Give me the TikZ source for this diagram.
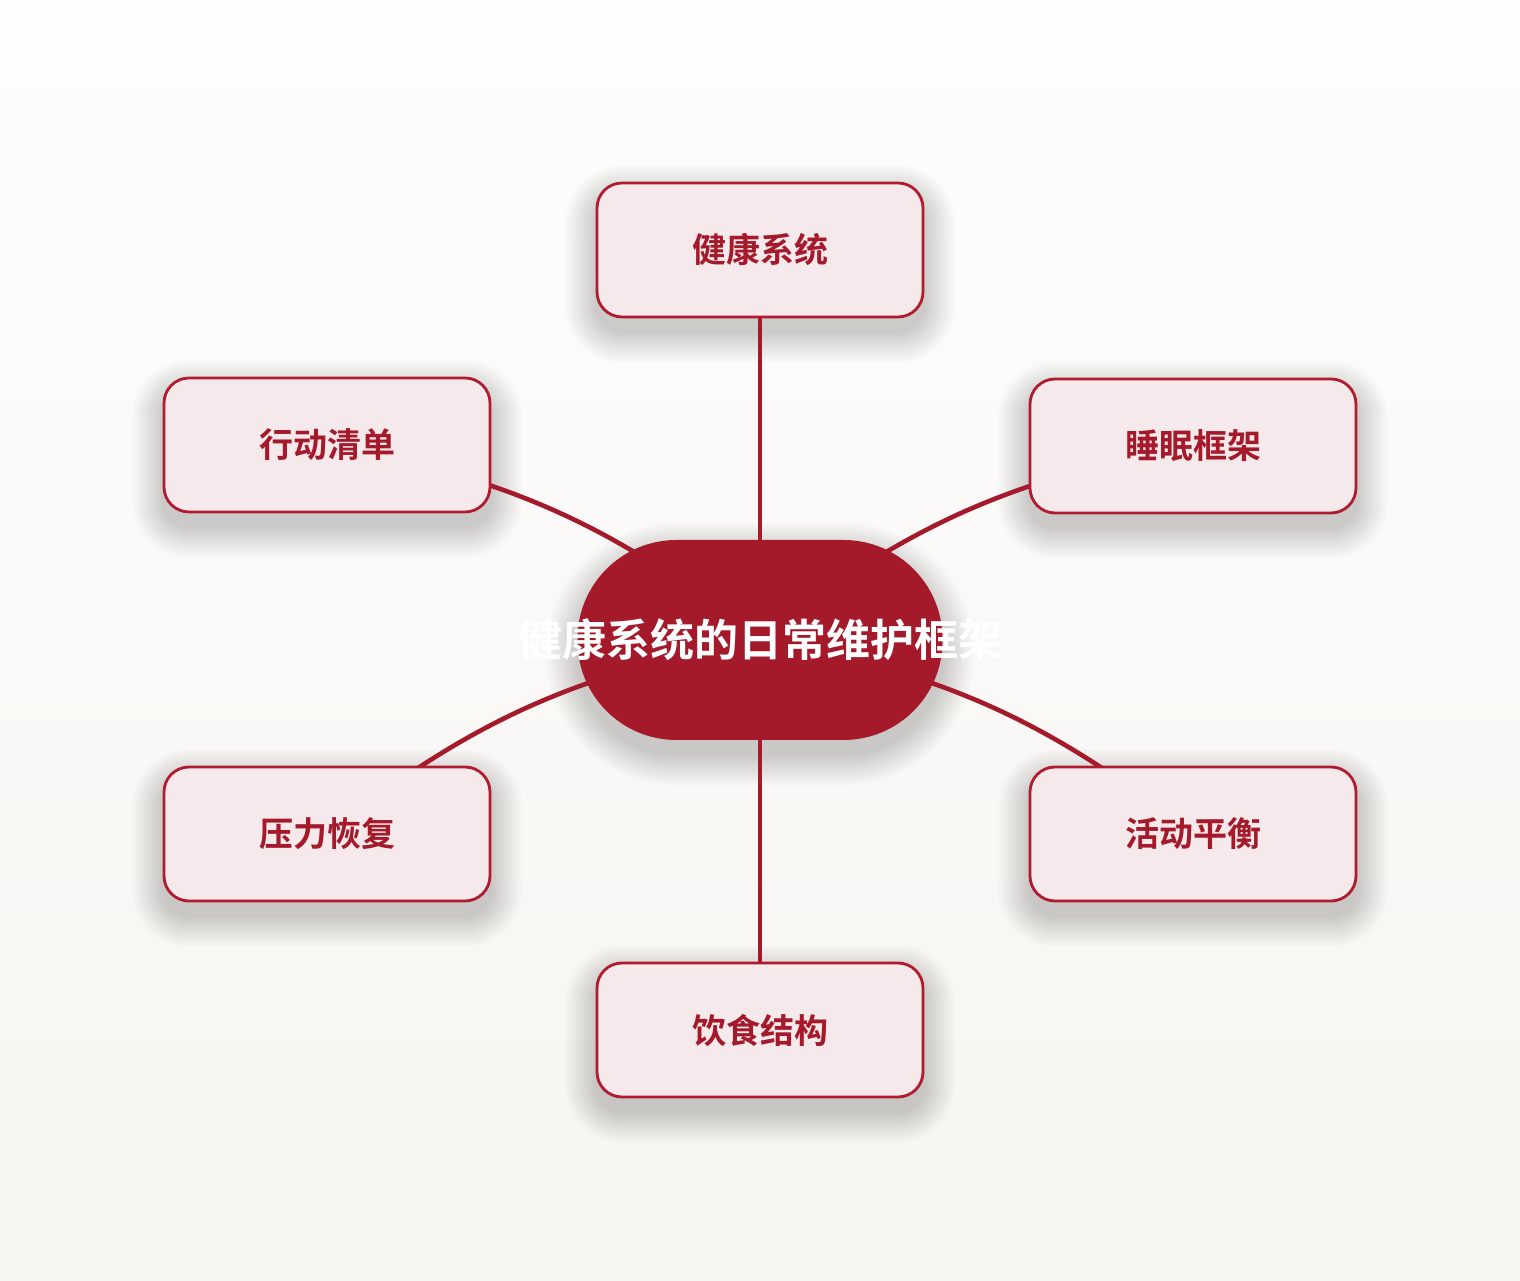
\documentclass[tikz,border=0pt]{standalone}
\usepackage{fontspec}
\usepackage{tikz}
\newfontfamily\cjkbold{Noto Sans CJK SC Bold}
\definecolor{deepred}{HTML}{A51A2B}
\definecolor{boxline}{HTML}{B01B2F}
\definecolor{boxfill}{HTML}{F5E9EB}
\definecolor{bgtop}{HTML}{FDFDFD}
\definecolor{bgbottom}{HTML}{F7F5F1}

\tikzset{
	topicbox/.style={draw=boxline, line width=2.8pt, fill=boxfill, rounded corners=25pt,
		minimum width=326pt, minimum height=134pt, inner sep=0pt,
		text=deepred, font=\cjkbold\fontsize{34}{40}\selectfont},
	hubnode/.style={fill=deepred, rounded corners=99pt, minimum width=365pt, minimum height=200pt,
		inner sep=0pt, text=white, font=\cjkbold\fontsize{44}{50}\selectfont},
	link/.style={draw=deepred, line width=4.6pt, line cap=round},
	shadowlayer/.style={fill=black, opacity=0.011}
}

\begin{document}
\begin{tikzpicture}[x=1pt,y=1pt]
	\shade[top color=bgtop, bottom color=bgbottom] (0,0) rectangle (1520,1280);
	\useasboundingbox (0,0) rectangle (1520,1280);
	\coordinate (c) at (760,640);
	\coordinate (ctop) at (760,1030); \coordinate (cbot) at (760,250);
	\coordinate (clt) at (327,835); \coordinate (crt) at (1193,834);
	\coordinate (clb) at (327,446); \coordinate (crb) at (1193,446);
	% soft shadows
	\foreach \p/\w/\h/\r in {ctop/163/67/25, cbot/163/67/25, clt/163/67/25, crt/163/67/25,
		clb/163/67/25, crb/163/67/25, c/182/100/99}{
		\foreach \k in {1,...,16}{
			\fill[shadowlayer, rounded corners={(\r+2*\k)*1pt}]
				([shift={(-\w-2*\k,-\h-2*\k-14)}]\p) rectangle ([shift={(\w+2*\k,\h+2*\k-14)}]\p);
		}
	}
	% spokes first, boxes drawn over them
	\draw[link] (c) -- (ctop);
	\draw[link] (c) -- (cbot);
	\draw[link] (c) to[bend right=14] (clt);
	\draw[link] (c) to[bend left=14] (crt);
	\draw[link] (c) to[bend right=14] (clb);
	\draw[link] (c) to[bend left=14] (crb);
	\node[topicbox] (health) at (ctop) {健康系统};
	\node[topicbox] (action) at (clt) {行动清单};
	\node[topicbox] (sleep) at (crt) {睡眠框架};
	\node[topicbox] (stress) at (clb) {压力恢复};
	\node[topicbox] (move) at (crb) {活动平衡};
	\node[topicbox] (diet) at (cbot) {饮食结构};
	\node[hubnode] (hub) at (c) {\makebox[0pt]{健康系统的日常维护框架}};
\end{tikzpicture}
\end{document}
